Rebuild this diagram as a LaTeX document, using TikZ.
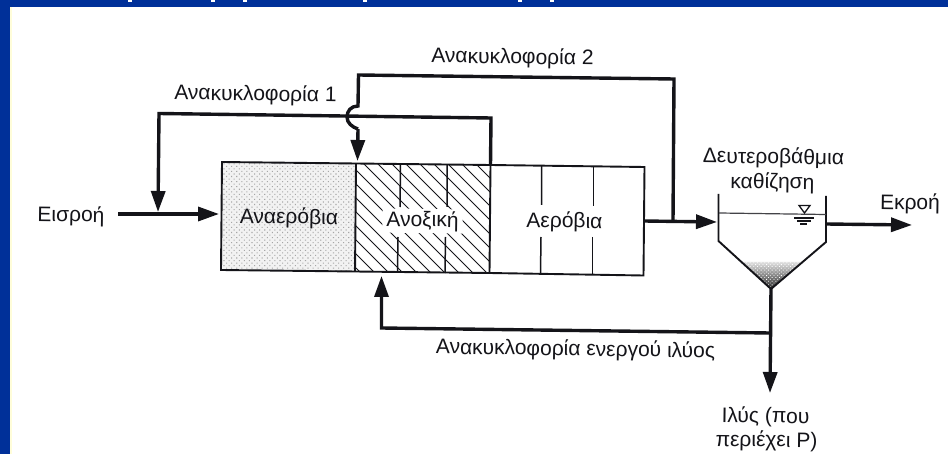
\documentclass[tikz,border=0pt]{standalone}
\usepackage{fontspec}
\setmainfont{Liberation Sans}
\usetikzlibrary{arrows.meta,patterns.meta}
\definecolor{slideblue}{RGB}{0,48,153}
\definecolor{ink}{RGB}{20,20,25}
\tikzset{
  pipe/.style={draw=ink,line width=3.4pt,line join=miter},
  flow/.style={pipe,-{Triangle[length=21pt,width=14pt]}},
  wall/.style={draw=ink,line width=1.9pt,line join=miter},
  thin wall/.style={draw=ink,line width=1.5pt},
  lab/.style={font=\fontsize{21}{24}\selectfont,text=ink,inner sep=0pt,rotate=-0.8,align=center},
  hatchline/.style={draw=ink,line width=1pt},
}
\begin{document}
\begin{tikzpicture}[x=1pt,y=-1pt]
\useasboundingbox (0,0) rectangle (948,454);
\fill[slideblue] (0,0) rectangle (948,454);
\fill[white] (10,7) rectangle (948,454);
\fill[white!85!yellow] (10,7) rectangle (11.5,454);
\foreach \xx in {130,213,245,365,520,552} \fill[white] (\xx-2,0) rectangle (\xx+2,2);

% tank corners
\coordinate (aTL) at (222,162);
\coordinate (aBL) at (221,270);
\coordinate (bT) at (356,163.5);
\coordinate (bB) at (355,271.5);
\coordinate (cT) at (490.5,165);
\coordinate (cB) at (489.5,273);
\coordinate (dT) at (644.5,167);
\coordinate (dB) at (643.5,275.5);
\coordinate (dOut) at (644,221);

% anaerobic stipple
\fill[black!5] (aTL) -- (bT) -- (bB) -- (aBL) -- cycle;
\fill[pattern={Dots[distance=3.6pt,radius=0.75pt,angle=45]},pattern color=black!35] (aTL) -- (bT) -- (bB) -- (aBL) -- cycle;

% anoxic hatching
\begin{scope}
\clip (bT) -- (cT) -- (cB) -- (bB) -- cycle;
\foreach \xx in {220,234,...,500}
  \draw[hatchline] (\xx,160) -- (\xx+118,278);
\end{scope}
% anoxic dividers
\draw[thin wall] (400.5,164) -- (400,207) (398,237) -- (397.5,272);
\draw[thin wall] (447,165) -- (447,207) (445.5,237) -- (445,273);
\node[lab,fill=white,inner xsep=4pt,inner ysep=2pt] (anox) at (422.5,221) {Ανοξική};

% aerobic dividers
\draw[thin wall] (541.5,166) -- (541.5,205) (541,237) -- (540.5,274);
\draw[thin wall] (593.5,167) -- (593.5,206) (592.5,237) -- (592.5,275);

% tank outlines
\draw[wall] (aTL) -- (bT) -- (cT) -- (dT) -- (dB) -- (cB) -- (bB) -- (aBL) -- cycle;
\draw[wall] (bT) -- (bB);
\draw[wall] (cT) -- (cB);

% tank labels
\node[lab] (anaer) at (289,218) {Αναερόβια};
\node[lab] (aer) at (564.5,222) {Αερόβια};

% settler
\coordinate (sTL) at (718.5,194);
\coordinate (sL) at (718.5,241);
\coordinate (sTip) at (771,289);
\coordinate (sR) at (826,242);
\coordinate (sTR) at (826,196);
\coordinate (sIn) at (718,222);
\coordinate (sOut) at (826,224);
\begin{scope}
\clip (742.5,262) -- (801,262) -- (sTip) -- cycle;
\shade[top color=black!12,bottom color=black!85] (735,262) rectangle (810,289);
\fill[pattern={Dots[distance=2.6pt,radius=0.6pt,angle=45]},pattern color=white] (735,262) rectangle (810,289);
\end{scope}
\draw[wall] (sTL) -- (sL) -- (sTip) -- (sR) -- (sTR);
\draw[draw=ink!80,line width=1.2pt] (719,213) -- (826,214.5);
\draw[draw=ink,line width=1.3pt] (799,205.5) -- (810,205.5) -- (804.5,213) -- cycle;
\draw[draw=ink,line width=1.2pt] (794,218) -- (814,218) (797,221) -- (811,221) (800,224) -- (807,224);

% free ends and pipe corners
\coordinate (inStart) at (118,214);
\coordinate (inEnd) at (219,214);
\coordinate (r1a) at (491,118);
\coordinate (r1b) at (159,113.5);
\coordinate (r1End) at (158,212);
\coordinate (r2a) at (673,221);
\coordinate (r2b) at (674,79);
\coordinate (r2c) at (358.5,75);
\coordinate (r2d) at (358,106);
\coordinate (r2e) at (358,129);
\coordinate (r2End) at (357.5,161);
\coordinate (rasStart) at (770,333);
\coordinate (rasC) at (381.5,328);
\coordinate (rasEnd) at (381.5,276);
\coordinate (sludgeEnd) at (770,393);
\coordinate (outEnd) at (717,222);
\coordinate (effEnd) at (912,225);

% pipes
\draw[flow] (inStart) -- (inEnd);
\draw[flow] (cT) -- (r1a) -- (r1b) -- (r1End);
\draw[pipe] (r2a) -- (r2b) -- (r2c) -- (r2d)
  .. controls (351,106) and (347,111) .. (347,117)
  .. controls (347,123) and (352,127) .. (r2e);
\draw[flow] (r2e) -- (r2End);
\draw[flow] (dOut) -- (outEnd);
\draw[flow] (sOut) -- (effEnd);
\draw[flow] (sTip) -- (sludgeEnd);
\draw[flow] (rasStart) -- (rasC) -- (rasEnd);

% labels
\node[lab] (l2) at (512.5,58) {Ανακυκλοφορία 2};
\node[lab] (l1) at (255.5,95) {Ανακυκλοφορία 1};
\node[lab] (in) at (71,216) {Εισροή};
\node[lab] (s1) at (773.5,158) {Δευτεροβάθμια};
\node[lab] (s2) at (772.5,183) {καθίζηση};
\node[lab] (eff) at (910,204) {Εκροή};
\node[lab] (ras) at (575.5,350) {Ανακυκλοφορία ενεργού ιλύος};
\node[lab] (sl1) at (765.5,417) {Ιλύς (που};
\node[lab] (sl2) at (766.5,441) {περιέχει P)};
\end{tikzpicture}
\end{document}
